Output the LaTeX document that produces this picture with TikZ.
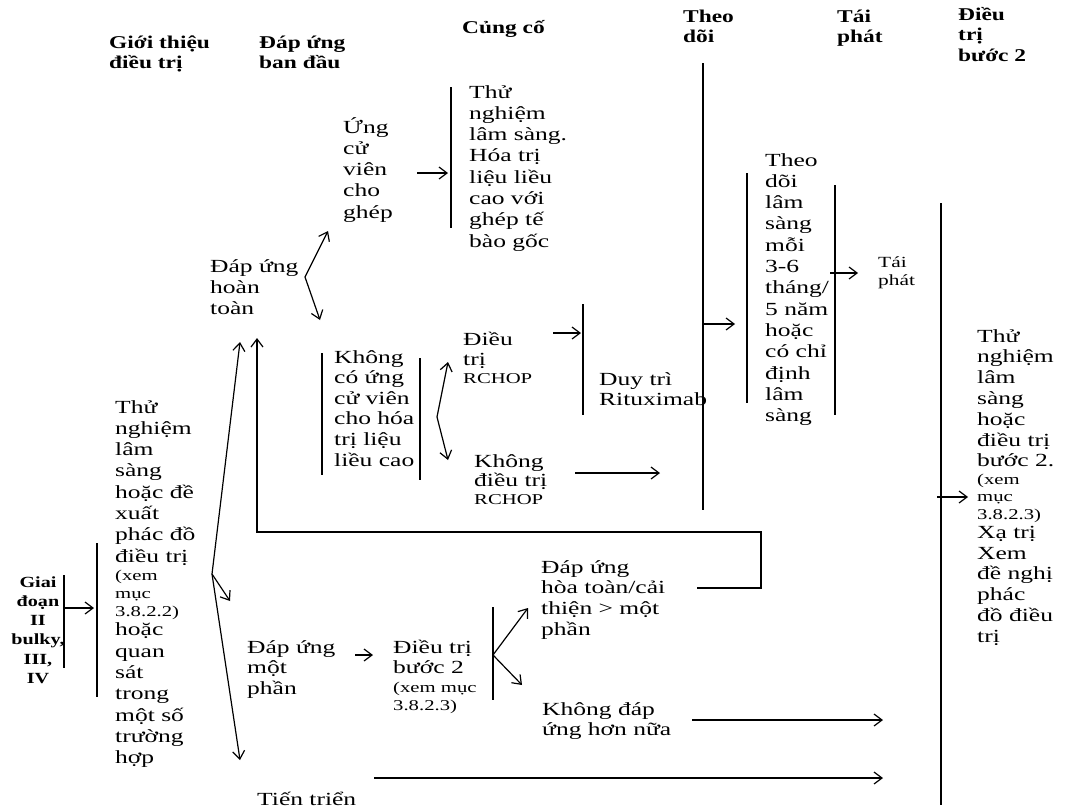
\documentclass[tikz,border=0pt]{standalone}
\usepackage{fontspec}
\setmainfont{Liberation Serif}[FakeStretch=1.38]
\newfontfamily\headfam{Liberation Serif}[FakeStretch=1.3]
\usepackage{tikz}
\usetikzlibrary{arrows.meta}
\newcommand{\txtbody}{\fontsize{18.5}{21.3}\selectfont}
\newcommand{\txtsmall}{\fontsize{15}{18}\selectfont}
\newcommand{\txthead}{\headfam\bfseries\fontsize{18}{20.5}\selectfont}
\newcommand{\txtstage}{\headfam\bfseries\fontsize{15.5}{19.3}\selectfont}

\begin{document}
\begin{tikzpicture}[x=1pt, y=-1pt,
  col/.style={anchor=base west, inner sep=0pt, align=left, font=\txtbody},
  lead/.style={font=\fontsize{18.5}{#1}\selectfont},
  head/.style={anchor=base west, inner sep=0pt, align=left, font=\txthead},
  bar/.style={line width=1.2pt},
  arr/.style={line width=1.2pt, -{Straight Barb[length=8pt,width=12pt]}}
]
  \useasboundingbox (0,0) rectangle (1066,809);

  \node[head] (hIntro)  at (109,68.5) {Giới thiệu\\điều trị};
  \node[head] (hInit)   at (259,68.5) {Đáp ứng\\ban đầu};
  \node[head] (hCons)   at (462,33)   {Củng cố};
  \node[head] (hFollow) at (683,42.5) {Theo\\dõi};
  \node[head] (hRel)    at (837,42.5) {Tái\\phát};
  \node[head] (hSecond) at (958,61)   {Điều\\trị\\bước 2};

  \node[anchor=base, inner sep=0pt, align=center, font=\txtstage] (stage)
    at (38,683.5) {Giai\\đoạn\\II\\bulky,\\III,\\IV};
  \node[col] (trialL) at (115,763.6)
    {Thử\\nghiệm\\lâm\\sàng\\hoặc đề\\xuất\\phác đồ\\điều trị\\[-2.5pt]%
     {\txtsmall (xem}\\[-4pt]{\txtsmall mục}\\[-3.5pt]{\txtsmall 3.8.2.2)}\\[-1.5pt]%
     hoặc\\quan\\sát\\trong\\một số\\trường\\hợp};
  \node[col] (complete) at (210,314.6) {Đáp ứng\\hoàn\\toàn};
  \node[col] (upCand)   at (343,218.2) {Ứng\\cử\\viên\\cho\\ghép};
  \node[col] (transpl)  at (469,247.1)
    {Thử\\nghiệm\\lâm sàng.\\Hóa trị\\liệu liều\\cao với\\ghép tế\\bào gốc};
  \node[col, lead=20.6] (noCand) at (334,466)
    {Không\\có ứng\\cử viên\\cho hóa\\trị liệu\\liều cao};
  \node[col] (rchop)    at (463,383.6) {Điều\\[-1pt]trị\\[-3pt]{\txtsmall RCHOP}};
  \node[col] (noRchop)  at (474,504.6) {Không\\[-2pt]điều trị\\[-3pt]{\txtsmall RCHOP}};
  \node[col] (maint)    at (599,405.3) {Duy trì\\[-1pt]Rituximab};
  \node[col] (follow)   at (765,421.6)
    {Theo\\dõi\\lâm\\sàng\\mỗi\\3-6\\tháng/\\5 năm\\hoặc\\có chỉ\\định\\lâm\\sàng};
  \node[col, font=\fontsize{15.5}{18}\selectfont] (relapse) at (878,285) {Tái\\phát};
  \node[col, lead=20.8] (second) at (977,642.3)
    {Thử\\nghiệm\\lâm\\sàng\\hoặc\\điều trị\\bước 2.\\[-3.3pt]%
     {\txtsmall (xem}\\[-3.3pt]{\txtsmall mục}\\[-3.3pt]{\txtsmall 3.8.2.3)}\\[-1.8pt]%
     Xạ trị\\Xem\\đề nghị\\phác\\đồ điều\\trị};
  \node[col, lead=20.5] (partial) at (247,694) {Đáp ứng\\một\\phần};
  \node[col, lead=20.5] (step2)   at (393,710)
    {Điều trị\\bước 2\\[-2pt]{\txtsmall (xem mục}\\[-2.5pt]{\txtsmall 3.8.2.3)}};
  \node[col, lead=20.7] (better)  at (541,635.1)
    {Đáp ứng\\hòa toàn/cải\\thiện > một\\phần};
  \node[col, lead=20] (noResp)    at (542,735) {Không đáp\\ứng hơn nữa};
  \node[col] (progress) at (257,805) {Tiến triển};

  \coordinate (sgT)  at (64,575);  \coordinate (sgB)  at (64,668);
  \coordinate (trT)  at (97,543);  \coordinate (trB)  at (97,697);
  \coordinate (tpT)  at (451,87);  \coordinate (tpB)  at (451,228);
  \coordinate (ncT)  at (322,353); \coordinate (ncB)  at (322,475);
  \coordinate (nc2T) at (420,358); \coordinate (nc2B) at (420,480);
  \coordinate (mtT)  at (583,304); \coordinate (mtB)  at (583,415);
  \coordinate (fuT)  at (703,63);  \coordinate (fuB)  at (703,510);
  \coordinate (fwT)  at (747,173); \coordinate (fwB)  at (747,403);
  \coordinate (fw2T) at (835,185); \coordinate (fw2B) at (835,415);
  \coordinate (scT)  at (941,203); \coordinate (scB)  at (941,805);
  \coordinate (s2T)  at (493,607); \coordinate (s2B)  at (493,700);

  \foreach \a/\b in {sgT/sgB, trT/trB, tpT/tpB, ncT/ncB, nc2T/nc2B,
                     mtT/mtB, fuT/fuB, fwT/fwB, fw2T/fw2B, scT/scB, s2T/s2B}
    \draw[bar] (\a) -- (\b);

  \coordinate (split)     at (212,574);
  \coordinate (vComp)     at (305,277);
  \coordinate (vNoCand)   at (437,417);
  \coordinate (vStep)     at (493,655);
  \coordinate (sgA)       at (64,608);  \coordinate (sgZ)       at (94,608);
  \coordinate (compIn)    at (240,342);
  \coordinate (partIn)    at (230,601);
  \coordinate (progIn)    at (240,760);
  \coordinate (candIn)    at (328,231);
  \coordinate (noCandIn)  at (320,320);
  \coordinate (candA)     at (417,173); \coordinate (candZ)     at (448,173);
  \coordinate (rchopIn)   at (448,362);
  \coordinate (noRchopIn) at (448,460);
  \coordinate (rchopA)    at (553,333); \coordinate (rchopZ)    at (581,333);
  \coordinate (noRchopA)  at (575,473); \coordinate (noRchopZ)  at (660,473);
  \coordinate (fuA)       at (703,324); \coordinate (fuZ)       at (735,324);
  \coordinate (relA)      at (830,273); \coordinate (relZ)      at (858,273);
  \coordinate (scA)       at (937,497); \coordinate (scZ)       at (968,497);
  \coordinate (partA)     at (355,655); \coordinate (partZ)     at (373,655);
  \coordinate (betterIn)  at (528,608);
  \coordinate (noRespIn)  at (522,685);
  \coordinate (noRespA)   at (692,720); \coordinate (noRespZ)   at (883,720);
  \coordinate (progA)     at (374,778); \coordinate (progZ)     at (883,778);

  \foreach \a/\b in {sgA/sgZ, split/compIn, split/partIn, split/progIn,
                     vComp/candIn, vComp/noCandIn, candA/candZ,
                     vNoCand/rchopIn, vNoCand/noRchopIn, rchopA/rchopZ,
                     noRchopA/noRchopZ, fuA/fuZ, relA/relZ, scA/scZ,
                     partA/partZ, vStep/betterIn, vStep/noRespIn,
                     noRespA/noRespZ, progA/progZ}
    \draw[arr] (\a) -- (\b);

  \coordinate (loopA) at (697,588);
  \coordinate (loopB) at (761,588);
  \coordinate (loopC) at (761,532);
  \coordinate (loopD) at (257,532);
  \coordinate (loopZ) at (257,338);
  \draw[arr] (loopA) -- (loopB) -- (loopC) -- (loopD) -- (loopZ);
\end{tikzpicture}
\end{document}
